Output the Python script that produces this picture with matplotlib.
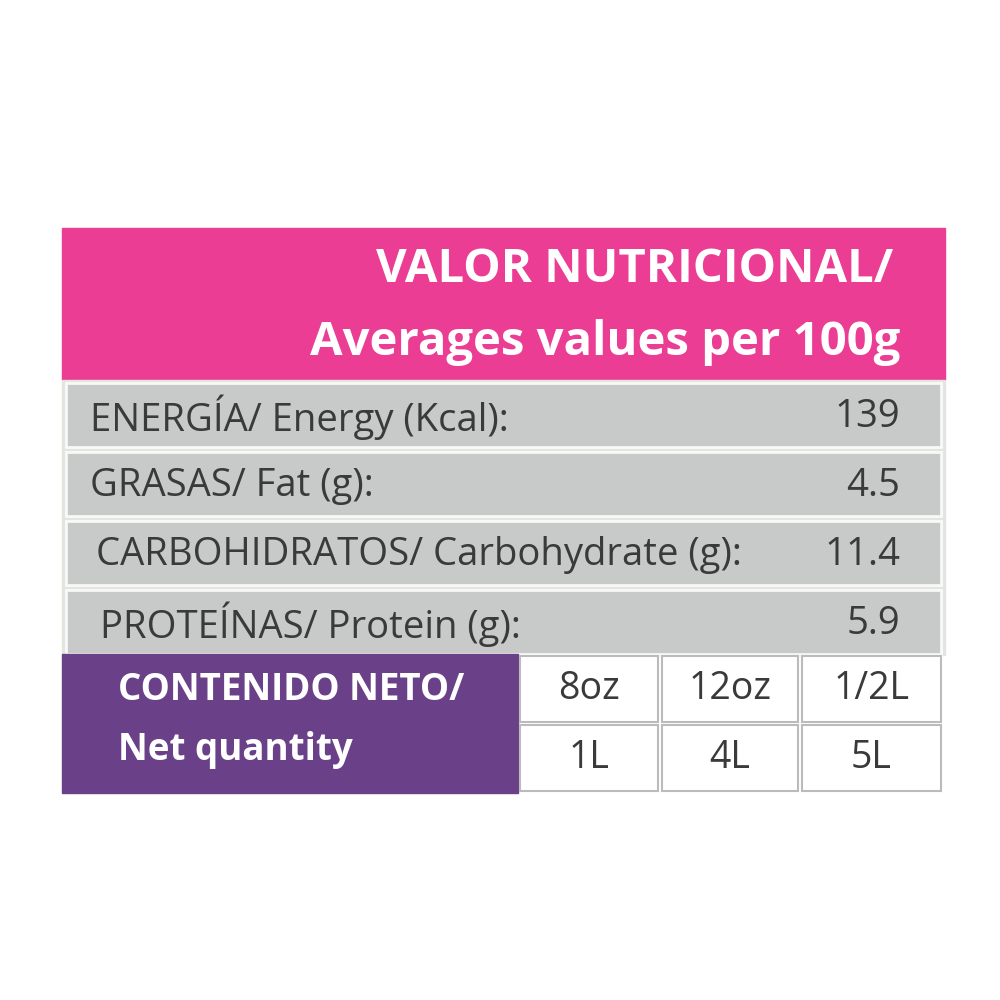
import matplotlib.pyplot as plt
from matplotlib.patches import Rectangle

title_lines = ["VALOR NUTRICIONAL/", "Averages values per 100g"]
nutrients = ["ENERGÍA/ Energy (Kcal):", "GRASAS/ Fat (g):",
             "CARBOHIDRATOS/ Carbohydrate (g):", "PROTEÍNAS/ Protein (g):"]
amounts = ["139", "4.5", "11.4", "5.9"]
net_label = ["CONTENIDO NETO/", "Net quantity"]
sizes = [["8oz", "12oz", "1/2L"], ["1L", "4L", "5L"]]

pink = "#EA3D93"
purple = "#6A4189"
grey = "#C4C6C5"
text_col = "#3A3A3A"

fig = plt.figure(figsize=(10, 10), dpi=100)
ax = fig.add_axes([0, 0, 1, 1])
ax.set_xlim(0, 1000)
ax.set_ylim(1000, 0)
ax.axis("off")

# header
ax.add_patch(Rectangle((62, 228), 883, 152, color=pink))
ax.text(893, 270, title_lines[0], ha="right", va="center", color="white",
        fontsize=34, fontweight="bold", family="Open Sans")
ax.text(900, 342, title_lines[1], ha="right", va="center", color="white",
        fontsize=34, fontweight="bold", family="Open Sans")

# nutrient rows
ax.add_patch(Rectangle((62, 380), 883, 275, color="#E4E4E0"))
row_tops = [383, 452, 521, 590]
row_h = 64
text_x = [90, 90, 96, 100]
for i, (name, val) in enumerate(zip(nutrients, amounts)):
    y = row_tops[i]
    ax.add_patch(Rectangle((66, y), 875, row_h, facecolor=grey, alpha=0.85,
                           edgecolor="white", linewidth=2))
    ax.text(text_x[i], y + row_h / 2 + 2, name, ha="left", va="center",
            color=text_col, fontsize=27.5, family="Open Sans")
    ax.text(900, y + row_h / 2 + 2, val, ha="right", va="center",
            color=text_col, fontsize=27.5, family="Open Sans")

# net quantity block
ax.add_patch(Rectangle((62, 654), 456, 139, color=purple))
ax.text(118, 690, net_label[0], ha="left", va="center", color="white",
        fontsize=26.5, fontweight="bold", family="Open Sans")
ax.text(118, 750, net_label[1], ha="left", va="center", color="white",
        fontsize=26.5, fontweight="bold", family="Open Sans")

col_x = [518, 660, 800]
col_w = [142, 140, 143]
cell_y = [654, 723]
for r, row in enumerate(sizes):
    for c, s in enumerate(row):
        ax.add_patch(Rectangle((col_x[c] + 2, cell_y[r] + 2), col_w[c] - 4, 66,
                               facecolor="white", edgecolor="#BBBBBB", linewidth=1.5))
        ax.text(col_x[c] + col_w[c] / 2, cell_y[r] + 35, s, ha="center", va="center",
                color=text_col, fontsize=27, family="Open Sans")

fig.savefig("out.png", dpi=100)
